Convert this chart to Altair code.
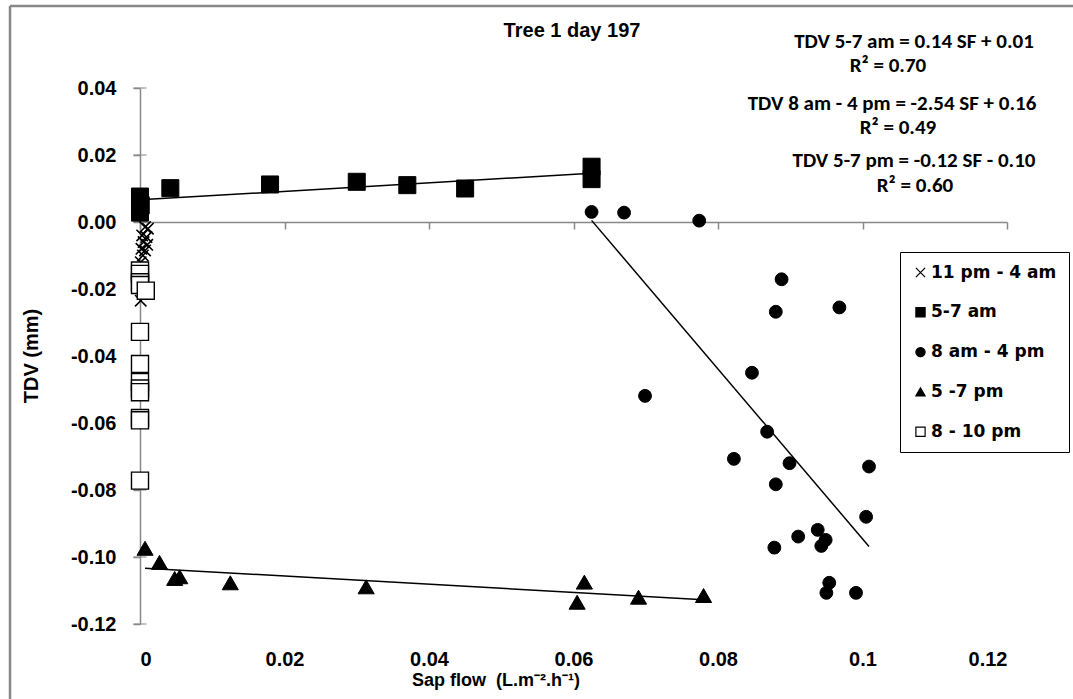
import altair as alt
import pandas as pd

# ---- data: tree 1, day 197 -------------------------------------------------
periods = ["11 pm - 4 am", "5-7 am", "8 am - 4 pm", "5 -7 pm", "8 - 10 pm"]

# 11 pm - 4 am
night_sf = [0.0007, 0.0011, 0.0003, 0.0009, 0.0005, 0.0010, 0.0002, 0.0007,
            0.0004, 0.0001, 0.0002, 0.0004, 0.0001]
night_tdv = [-0.0015, -0.0020, -0.0040, -0.0045, -0.0060, -0.0068, -0.0080,
             -0.0085, -0.0100, -0.0120, -0.0155, -0.0190, -0.0235]

# 5-7 am
am_sf = [0.0000, 0.0001, 0.0000, 0.0042, 0.0180, 0.0300, 0.0370, 0.0450,
         0.0625, 0.0625]
am_tdv = [0.0076, 0.0050, 0.0028, 0.0101, 0.0112, 0.0120, 0.0110, 0.0100,
          0.0165, 0.0128]

# 8 am - 4 pm
day_sf = [0.0625, 0.0670, 0.0774, 0.0888, 0.0880, 0.0968, 0.0847, 0.0699,
          0.0868, 0.0822, 0.0899, 0.1009, 0.0880, 0.1005, 0.0938, 0.0911,
          0.0949, 0.0943, 0.0878, 0.0954, 0.0950, 0.0991]
day_tdv = [0.0030, 0.0028, 0.0004, -0.0171, -0.0268, -0.0255, -0.0450,
           -0.0519, -0.0626, -0.0707, -0.0720, -0.0730, -0.0783, -0.0880,
           -0.0919, -0.0939, -0.0949, -0.0967, -0.0972, -0.1077, -0.1107,
           -0.1107]

# 5 -7 pm
eve_sf = [0.0007, 0.0027, 0.0048, 0.0055, 0.0125, 0.0313, 0.0605, 0.0615,
          0.0690, 0.0780]
eve_tdv = [-0.0974, -0.1016, -0.1064, -0.1059, -0.1077, -0.1089, -0.1135,
           -0.1075, -0.1120, -0.1115]

# 8 - 10 pm
late_sf = [0.0000, 0.0000, 0.0000, 0.0000, 0.0008, 0.0000, 0.0000, 0.0000,
           0.0000, 0.0000, 0.0000, 0.0000, 0.0000]
late_tdv = [-0.0145, -0.0155, -0.0180, -0.0188, -0.0205, -0.0328, -0.0424,
            -0.0478, -0.0497, -0.0508, -0.0585, -0.0592, -0.0772]

fitted_periods = ["5-7 am", "8 am - 4 pm", "5 -7 pm"]
equation_lines = [
    "TDV 5-7 am = 0.14 SF + 0.01", "R² = 0.70",
    "TDV 8 am - 4 pm = -2.54 SF + 0.16", "R² = 0.49",
    "TDV 5-7 pm = -0.12 SF - 0.10", "R² = 0.60",
]
x_ticks = [0, 0.02, 0.04, 0.06, 0.08, 0.10, 0.12]
y_ticks = [-0.12, -0.10, -0.08, -0.06, -0.04, -0.02, 0.0, 0.02, 0.04]
chart_title = "Tree 1 day 197"
x_title = "Sap flow\u00a0\u00a0(L.m⁻².h⁻¹)"
y_title = "TDV (mm)"

# ---- tables ----------------------------------------------------------------
rows = []
for name, xs, ys in zip(periods,
                        [night_sf, am_sf, day_sf, eve_sf, late_sf],
                        [night_tdv, am_tdv, day_tdv, eve_tdv, late_tdv]):
    for a, b in zip(xs, ys):
        rows.append({"period": name, "sf": a, "tdv": b})
points_df = pd.DataFrame(rows)
ticks_df = pd.DataFrame({"tdv": y_ticks})
one_row = pd.DataFrame({"k": [0]})

# ---- layout / style --------------------------------------------------------
W, H = 867, 536
LEFT, TOP = 140, 88
AXIS_GREY = "#888888"
SANS = "Liberation Sans, Arial, sans-serif"
WIDE = "DejaVu Sans, Verdana, sans-serif"
EQ_FONT = "Carlito, Lato, sans-serif"

x_scale = alt.Scale(domain=[0, 0.12], nice=False, zero=False)
y_scale = alt.Scale(domain=[-0.12, 0.04], nice=False, zero=False)

x_axis = alt.Axis(
    values=x_ticks, format=".2~f", title=None, grid=False,
    offset=-402, domainColor=AXIS_GREY, domainWidth=1.5,
    tickColor=AXIS_GREY, tickWidth=1.5, tickSize=7,
    labelPadding=420, labelFont=SANS, labelFontSize=20,
    labelFontWeight="bold", labelColor="black",
)
y_axis = alt.Axis(
    values=y_ticks, title=None, grid=False,
    labelExpr="(datum.value < -0.0001 ? '-' : '') + format(abs(datum.value), '.2f')",
    domainColor=AXIS_GREY, domainWidth=1.5,
    tickColor=AXIS_GREY, tickWidth=1.5, tickSize=7,
    labelPadding=17, labelFont=SANS, labelFontSize=20,
    labelFontWeight="bold", labelColor="black",
)

cross_path = "M-1,-1L1,1M-1,1L1,-1"
legend = alt.Legend(
    title=None, orient="none", legendX=760, legendY=164,
    labelFont=WIDE, labelFontSize=17, labelFontWeight="bold",
    labelColor="black", labelOffset=2,
    symbolSize=85, symbolStrokeWidth=1.2,
    rowPadding=21.8, padding=12, strokeColor="black", fillColor="white",
)
shape_scale = alt.Scale(domain=periods,
                        range=[cross_path, "square", "circle", "triangle-up", "square"])
fill_scale = alt.Scale(domain=periods,
                       range=["black", "black", "black", "black", "white"])
stroke_scale = alt.Scale(domain=periods, range=["black"] * len(periods))

# marker size / outline for each period, in the order of `periods`
marker_size = [130, 290, 165, 260, 290]
marker_stroke = [1.6, 1.0, 1.0, 1.0, 1.4]

# ---- layers ----------------------------------------------------------------
point_layers = []
for name, msize, mstroke in zip(periods, marker_size, marker_stroke):
    point_layers.append(
        alt.Chart(points_df).transform_filter(
            alt.datum.period == name
        ).mark_point(
            filled=True, opacity=1, size=msize, strokeWidth=mstroke
        ).encode(
            x=alt.X("sf:Q", scale=x_scale, axis=x_axis),
            y=alt.Y("tdv:Q", scale=y_scale, axis=y_axis),
            shape=alt.Shape("period:N", scale=shape_scale, legend=legend),
            fill=alt.Fill("period:N", scale=fill_scale, legend=legend),
            stroke=alt.Stroke("period:N", scale=stroke_scale, legend=legend),
        )
    )

trend = alt.Chart(points_df).transform_filter(
    alt.FieldOneOfPredicate(field="period", oneOf=fitted_periods)
).transform_regression(
    "sf", "tdv", groupby=["period"]
).mark_line(color="black", strokeWidth=1.5).encode(
    x=alt.X("sf:Q", scale=x_scale),
    y=alt.Y("tdv:Q", scale=y_scale),
    detail="period:N",
)

# y-axis ticks cross the axis line
cross_ticks = alt.Chart(ticks_df).mark_tick(
    orient="horizontal", size=13, thickness=1.5, color=AXIS_GREY
).encode(
    x=alt.datum(0, scale=x_scale),
    y=alt.Y("tdv:Q", scale=y_scale),
)


def label(text, x, y, size, font=SANS, angle=0, align="center"):
    return alt.Chart(one_row).mark_text(
        text=text, font=font, fontSize=size, fontWeight="bold", color="black",
        align=align, baseline="middle", angle=angle,
    ).encode(x=alt.value(x - LEFT), y=alt.value(y - TOP))


texts = [
    label(chart_title, 572, 31, 20),
    label(x_title, 412, 681, 18, align="left"),
    label(y_title, 32, 356, 20, angle=270),
]
eq_pos = [(914, 42), (888, 66), (892, 104), (898, 128), (914, 161), (915, 186)]
for line, (ex, ey) in zip(equation_lines, eq_pos):
    texts.append(label(line, ex, ey, 21, font=EQ_FONT))

# outer frame of the chart area (top and left edges)
frame_top = alt.Chart(one_row).mark_rule(color=AXIS_GREY, strokeWidth=2.5).encode(
    x=alt.value(10 - LEFT), x2=alt.value(1080 - LEFT), y=alt.value(6 - TOP))
frame_left = alt.Chart(one_row).mark_rule(color=AXIS_GREY, strokeWidth=2.5).encode(
    x=alt.value(10 - LEFT), y=alt.value(6 - TOP), y2=alt.value(710 - TOP))

chart = alt.layer(
    frame_top, frame_left, cross_ticks, *point_layers, trend, *texts
).properties(
    width=W, height=H,
    padding={"left": LEFT, "top": TOP, "right": 1073 - LEFT - W, "bottom": 699 - TOP - H},
    autosize=alt.AutoSizeParams(type="none"),
    background="white",
).configure_view(stroke="transparent")

chart.save("out.html", embed_options={"renderer": "svg", "actions": False})
